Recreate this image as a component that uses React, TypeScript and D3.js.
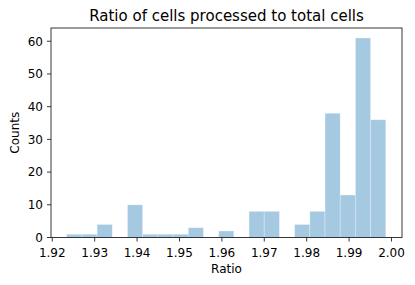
import React from "react";
import * as d3 from "d3";

const title = "Ratio of cells processed to total cells";
const xLabel = "Ratio";
const yLabel = "Counts";
const binLow = 1.9234;
const binHigh = 1.99866;
const counts = [1, 1, 4, 0, 10, 1, 1, 1, 3, 0, 2, 0, 8, 8, 0, 4, 8, 38, 13, 61, 36];
const xTicks = [1.92, 1.93, 1.94, 1.95, 1.96, 1.97, 1.98, 1.99, 2.0];
const yTicks = [0, 10, 20, 30, 40, 50, 60];

const W = 415, H = 285;
const left = 51, right = 402, top = 28, bottom = 237.5;
const font = "DejaVu Sans, sans-serif";

export default function App() {
  const x = d3.scaleLinear().domain([1.9197, 2.00248]).range([left, right]);
  const y = d3.scaleLinear().domain([0, 64.05]).range([bottom, top]);
  const step = (binHigh - binLow) / counts.length;
  const bins = counts.map((c, i) => ({ x0: binLow + i * step, x1: binLow + (i + 1) * step, c }));
  return (
    <svg width={W} height={H} style={{ position: "absolute", left: 0, top: 0 }} fontFamily={font}>
      <rect x={0} y={0} width={W} height={H} fill="#fff" />
      {bins.filter(b => b.c > 0).map((b, i) => (
        <rect key={i} x={x(b.x0)} y={y(b.c)} width={x(b.x1) - x(b.x0)} height={y(0) - y(b.c)}
          fill="#1f77b4" fillOpacity={0.4} stroke="#ffffff" strokeOpacity={0.4} strokeWidth={0.8} />
      ))}
      <rect x={left} y={top} width={right - left} height={bottom - top} fill="none" stroke="#222" strokeWidth={0.9} />
      {xTicks.map(t => (
        <g key={t} transform={`translate(${x(t)},${bottom})`}>
          <line y1={0} y2={4} stroke="#222" strokeWidth={0.9} />
          <text y={19.5} textAnchor="middle" fontSize={12}>{d3.format(".2f")(t)}</text>
        </g>
      ))}
      {yTicks.map(t => (
        <g key={t} transform={`translate(${left},${y(t)})`}>
          <line x1={0} x2={-4} stroke="#222" strokeWidth={0.9} />
          <text x={-8} textAnchor="end" fontSize={12} dy="0.36em">{t}</text>
        </g>
      ))}
      <text x={(left + right) / 2} y={20.5} textAnchor="middle" fontSize={15}>{title}</text>
      <text x={(left + right) / 2} y={273} textAnchor="middle" fontSize={12}>{xLabel}</text>
      <text transform={`translate(18.5,${(top + bottom) / 2}) rotate(-90)`} textAnchor="middle" fontSize={12}>{yLabel}</text>
    </svg>
  );
}
